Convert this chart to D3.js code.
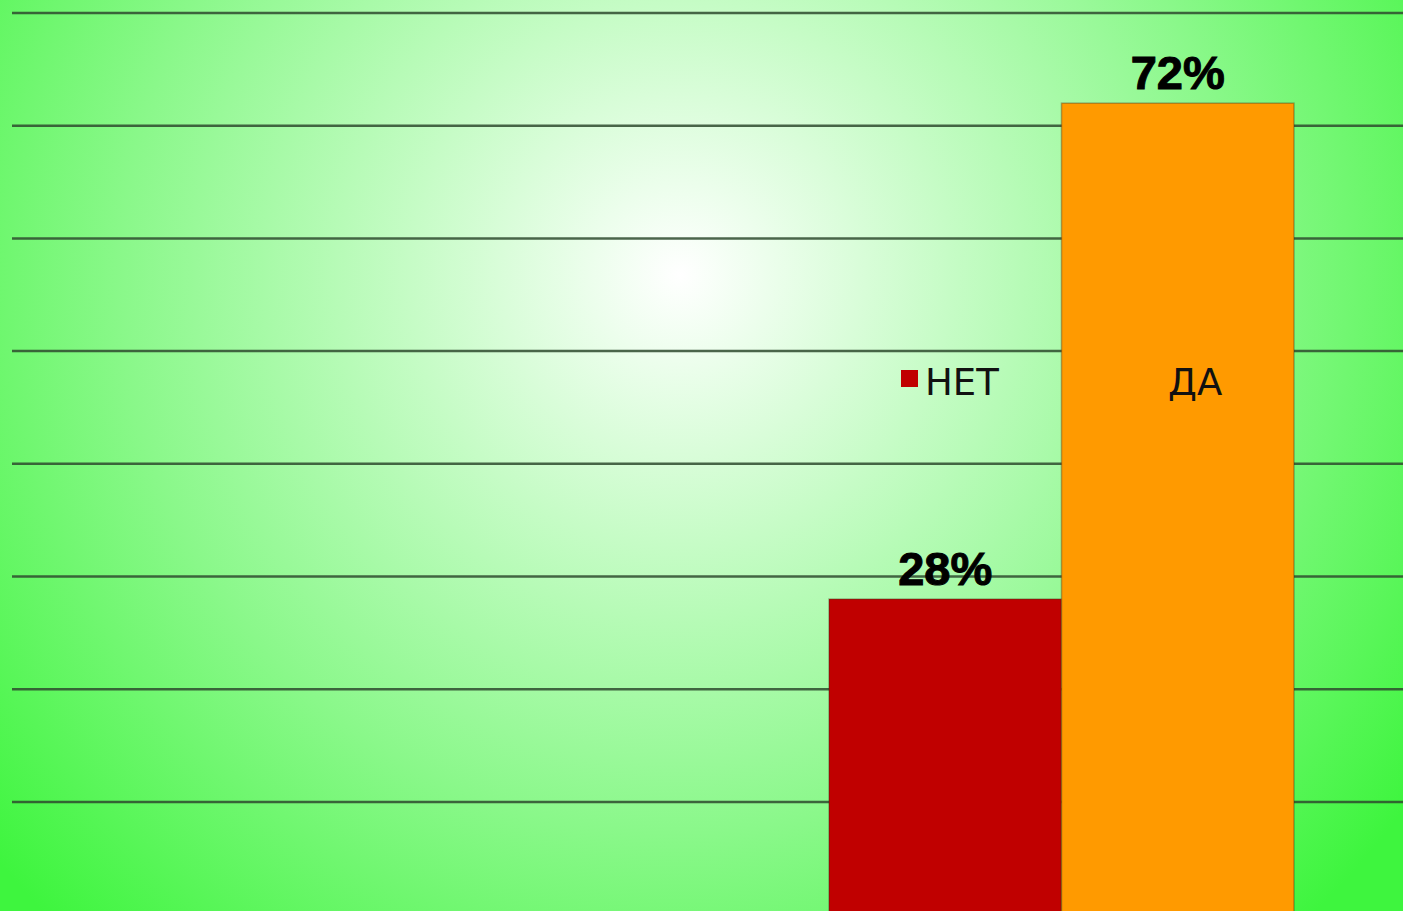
<!DOCTYPE html>
<html>
<head>
<meta charset="utf-8">
<script src="https://cdn.jsdelivr.net/npm/d3@7"></script>
<style>
  html, body { margin: 0; padding: 0; overflow: hidden; background: #44f544; }
  svg { display: block; }
</style>
</head>
<body>
<svg id="chart" width="1403" height="911"></svg>
<script>
// ---- data ----
var categories = ["НЕТ", "ДА"];
var values = [28, 72];
var labels = ["28%", "72%"];
var colors = ["#c00000", "#ff9a00"];
var gridTicks = [10, 20, 30, 40, 50, 60, 70, 80];

var W = 1403, H = 911;
var svg = d3.select("#chart");

// ---- background: radial gradient ----
var defs = svg.append("defs");
var rg = defs.append("radialGradient").attr("id", "bg")
  .attr("gradientUnits", "userSpaceOnUse")
  .attr("cx", 680).attr("cy", 275).attr("r", 900);
rg.append("stop").attr("offset", "0%").attr("stop-color", "#ffffff");
rg.append("stop").attr("offset", "30%").attr("stop-color", "#c6fcc6");
rg.append("stop").attr("offset", "62%").attr("stop-color", "#8af88a");
rg.append("stop").attr("offset", "100%").attr("stop-color", "#3ef53e");
svg.append("rect").attr("width", W).attr("height", H).attr("fill", "url(#bg)");

// ---- scales ----
var y = d3.scaleLinear().domain([0, 80]).range([914.6, 13]);
var x = d3.scaleBand().domain(categories).range([829, 1294]).padding(0);

// ---- gridlines ----
svg.append("g").selectAll("line").data(gridTicks).join("line")
  .attr("x1", 12).attr("x2", W)
  .attr("y1", function (d) { return y(d); }).attr("y2", function (d) { return y(d); })
  .attr("stroke", "#2e4a2e").attr("stroke-opacity", 0.85).attr("stroke-width", 2.5);

// ---- bars ----
svg.append("g").selectAll("rect").data(values).join("rect")
  .attr("x", function (d, i) { return x(categories[i]); })
  .attr("y", function (d) { return y(d); })
  .attr("width", x.bandwidth())
  .attr("height", function (d) { return y(0) - y(d); })
  .attr("fill", function (d, i) { return colors[i]; })
  .attr("stroke", "rgba(60,40,20,0.35)").attr("stroke-width", 1.5);

// ---- value labels ----
svg.append("g").selectAll("text").data(values).join("text")
  .attr("x", function (d, i) { return x(categories[i]) + x.bandwidth() / 2; })
  .attr("y", function (d) { return y(d) - 14; })
  .attr("text-anchor", "middle")
  .attr("font-family", "Liberation Sans, Arial, sans-serif")
  .attr("font-weight", "bold").attr("font-size", 47)
  .attr("fill", "#000").attr("stroke", "#000").attr("stroke-width", 1)
  .text(function (d, i) { return labels[i]; });

// ---- legend ----
var legX = [901, 1144];
var leg = svg.append("g").selectAll("g").data(categories).join("g")
  .attr("transform", function (d, i) { return "translate(" + legX[i] + ",370)"; });
leg.append("rect").attr("width", 17).attr("height", 17)
  .attr("fill", function (d, i) { return colors[i]; });
leg.append("text").attr("x", 24).attr("y", 25)
  .attr("font-family", "DejaVu Sans, sans-serif").attr("font-size", 37)
  .attr("fill", "#111")
  .text(function (d) { return d; });
</script>
</body>
</html>
